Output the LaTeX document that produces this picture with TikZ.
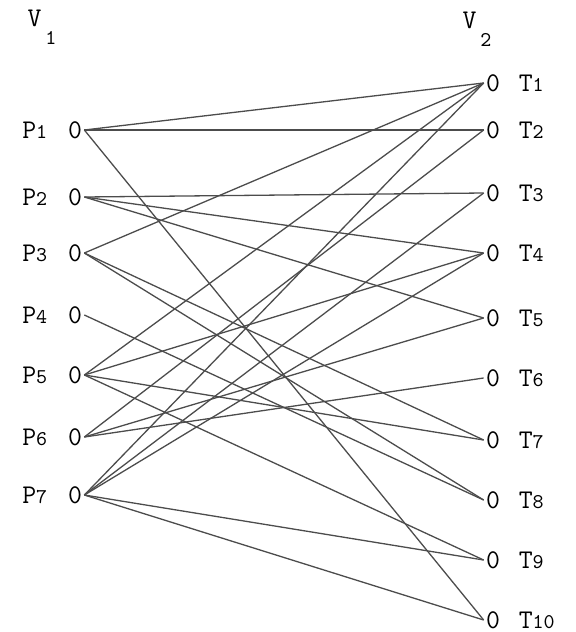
\documentclass[tikz,border=0pt]{standalone}
\usepackage{tikz}
\usetikzlibrary{positioning}
\tikzset{
  vtx/.style={inner sep=1pt,font=\ttfamily\fontsize{13.5}{14}\selectfont},
  lbl/.style={inner sep=0pt,font=\ttfamily\fontsize{13.5}{14}\selectfont},
  edge/.style={black!70,line width=0.65pt}
}
\newcommand{\sub}[1]{{\fontsize{10.5}{11}\selectfont #1}}
\begin{document}
\begin{tikzpicture}[x=0.5pt,y=-0.5pt]
\useasboundingbox (0,0) rectangle (576,632);
% left vertex set
\foreach \i/\y in {1/130,2/197,3/253,4/315,5/375,6/437,7/495}{
  \node[vtx] (p\i) at (75,\y) {0};
  \node[lbl,left=9pt of p\i] {P\sub{\i}};
}
% right vertex set
\foreach \i/\y in {1/83,2/130,3/193,4/253,5/318,6/378,7/440,8/500,9/560,10/620}{
  \node[vtx] (t\i) at (493,\y) {0};
  \node[lbl,right=8pt of t\i] {T\sub{\i}};
}
\node[lbl] (v1) at (42,27) {V\hspace{2pt}\raisebox{-9pt}{\sub{1}}};
\node[lbl] (v2) at (477,29) {V\hspace{2pt}\raisebox{-9pt}{\sub{2}}};
% edges
\foreach \a/\b in {1/1,1/2,1/10,2/3,2/4,2/5,3/1,3/7,3/8,4/8,5/1,5/4,5/7,5/9,
  6/2,6/5,6/6,7/1,7/3,7/4,7/9,7/10}
  \draw[edge] (p\a.east) -- (t\b.west);
\end{tikzpicture}
\end{document}
